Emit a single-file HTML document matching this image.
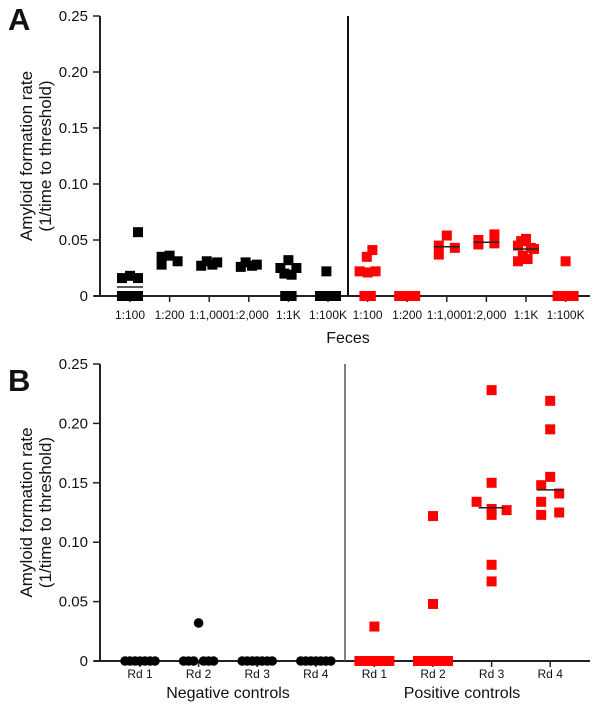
<!DOCTYPE html>
<html><head><meta charset="utf-8"><style>
body{margin:0;background:#fff;}
svg{display:block;font-family:"Liberation Sans",sans-serif;}
</style></head><body>
<svg id="chart" width="600" height="711" viewBox="0 0 600 711"></svg>
<script>
const catsA = ["1:100","1:200","1:1,000","1:2,000","1:1K","1:100K","1:100","1:200","1:1,000","1:2,000","1:1K","1:100K"];
const groupA = ["black","black","black","black","black","black","red","red","red","red","red","red"];
const valuesA = [
 [0.057,0.016,0.018,0.016,0,0,0,0],
 [0.035,0.028,0.036,0.031],
 [0.027,0.031,0.028,0.030],
 [0.026,0.030,0.027,0.028],
 [0.025,0.032,0.020,0.025,0.019,0,0],
 [0.022,0,0,0,0],
 [0.041,0.035,0.022,0.021,0.022,0,0],
 [0,0,0,0,0],
 [0.054,0.045,0.037,0.043],
 [0.050,0.046,0.055,0.047],
 [0.051,0.049,0.045,0.043,0.042,0.036,0.031,0.033],
 [0.031,0,0,0,0]
];
const offsA = [
 [1,-1,0,1,-1,-0.4,0.4,1],
 [-1,-1,0,1],
 [-1,-0.3,0.4,1],
 [-1,-0.4,0.4,1],
 [-1,0,-0.5,1,0.4,-0.4,0.4],
 [-0.2,-1,-0.3,0.3,1],
 [0.6,-0.1,-1,0,1,-0.4,0.4],
 [-1,-0.5,0,0.5,1],
 [0,-1,-1,1],
 [-1,-1,1,1],
 [0,-0.6,-1,0.6,1,-0.4,-1,0.2],
 [0,-1,-0.3,0.3,1]
];
const linesA = [0.008,null,null,null,null,null,null,null,0.044,0.048,0.042,null];
const ticksY = [0,0.05,0.10,0.15,0.20,0.25];
const tickLabelsY = ["0","0.05","0.10","0.15","0.20","0.25"];
const catsB = ["Rd 1","Rd 2","Rd 3","Rd 4","Rd 1","Rd 2","Rd 3","Rd 4"];
const valuesB = [
 [0,0,0,0,0,0,0],
 [0.032,0,0,0,0,0,0],
 [0,0,0,0,0,0,0],
 [0,0,0,0,0,0,0],
 [0.029,0,0,0,0,0],
 [0.122,0.048,0,0,0,0,0],
 [0.228,0.150,0.134,0.128,0.123,0.127,0.081,0.067],
 [0.219,0.195,0.155,0.148,0.141,0.134,0.123,0.125]
];
const offsB = [
 [-1,-0.67,-0.33,0,0.33,0.67,1],
 [0,-1,-0.67,-0.33,0.33,0.67,1],
 [-1,-0.67,-0.33,0,0.33,0.67,1],
 [-1,-0.67,-0.33,0,0.33,0.67,1],
 [0,-1,-0.5,0,0.5,1],
 [0,0,-1,-0.5,0,0.5,1],
 [0,0,-1,0,0,1,0,0],
 [0,0,0,-0.6,0.6,-0.6,-0.6,0.6]
];
const linesB = [null,null,null,null,null,null,0.129,0.144];

const svg = document.getElementById('chart');
const NS = "http://www.w3.org/2000/svg";
function mk(tag, attrs, parent){const e=document.createElementNS(NS,tag);for(const k in attrs)e.setAttribute(k,attrs[k]);(parent||svg).appendChild(e);return e;}
function txt(s,x,y,size,anchor,parent,weight){const t=mk('text',{x:x,y:y,'font-size':size,'text-anchor':anchor||'middle',fill:'#111'},parent);if(weight)t.setAttribute('font-weight',weight);t.textContent=s;return t;}

function panel(cfg){
  const g = mk('g',{});
  
  
  const y = v => cfg.y0 - v/0.25*(cfg.y0-cfg.yTop);
  const x = i => cfg.x0 + i*cfg.dx;
  const lt = txt(cfg.letter, 8, cfg.letterY, 31, 'start', g, 'bold');
  
  
  const ya = mk('line',{x1:100,y1:cfg.yTop,x2:100,y2:cfg.y0,stroke:'#222','stroke-width':2},g);
  
  
  const xa = mk('line',{x1:94,y1:cfg.y0,x2:590,y2:cfg.y0,stroke:'#222','stroke-width':2},g);
  
  
  const dv = mk('line',{x1:cfg.div,y1:cfg.yTop,x2:cfg.div,y2:cfg.y0,stroke:cfg.divColor,'stroke-width':cfg.divW},g);
  
  
  ticksY.forEach((v,i)=>{
    mk('line',{x1:93,y1:y(v),x2:100,y2:y(v),stroke:'#222','stroke-width':1.5},g);
    const t = txt(tickLabelsY[i], 88, y(v)+5, 15, 'end', g);
    
    
  });
  const yt = mk('text',{transform:`translate(${cfg.titleX},${(cfg.yTop+cfg.y0)/2}) rotate(-90)`,'font-size':17,'text-anchor':'middle',fill:'#111'},g);
  
  
  const t1 = mk('tspan',{x:0,y:0},yt); t1.textContent='Amyloid formation rate';
  const t2 = mk('tspan',{x:0,y:19},yt); t2.textContent='(1/time to threshold)';
  cfg.cats.forEach((c,i)=>{
    mk('line',{x1:x(i),y1:cfg.y0,x2:x(i),y2:cfg.y0+6,stroke:'#222','stroke-width':1.5},g);
    const t = txt(c, x(i), cfg.y0+cfg.labOff, cfg.labSize, 'middle', g);
    
    
    cfg.vals[i].forEach((v,j)=>{
      const cx = x(i)+cfg.offs[i][j]*cfg.spread;
      const red = cfg.isRed(i);
      let m;
      if(cfg.circle(i)) m = mk('circle',{cx:cx,cy:y(v),r:4.8,fill:'#000'},g);
      else m = mk('rect',{x:cx-5,y:y(v)-5,width:10,height:10,fill:red?'#f00':'#000'},g);
      
      
    });
    if(cfg.lines[i]!=null){
      const l = mk('line',{x1:x(i)-13,y1:y(cfg.lines[i]),x2:x(i)+13,y2:y(cfg.lines[i]),stroke:'#222','stroke-width':1.5},g);
      
      
    }
  });
  cfg.groupLabels.forEach(gl=>{
    const t = txt(gl[0], gl[1], gl[2], 16, 'middle', g);
    
    
  });
}
panel({name:'panel-a',letter:'A',letterY:30,yTop:16,y0:296,x0:130,dx:39.6,div:348,divColor:'#111',divW:2,
  cats:catsA,vals:valuesA,offs:offsA,lines:linesA,spread:8,labOff:23,labSize:12,titleX:32,
  isRed:i=>groupA[i]==='red',circle:i=>false,groupLabels:[["Feces",348,343]]});
panel({name:'panel-b',letter:'B',letterY:391,yTop:364,y0:661,x0:140,dx:58.6,div:345,divColor:'#555',divW:1.5,
  cats:catsB,vals:valuesB,offs:offsB,lines:linesB,spread:15,labOff:17,labSize:12,titleX:32,
  isRed:i=>i>=4,circle:i=>i<4,groupLabels:[["Negative controls",228,698],["Positive controls",462,698]]});
</script>
</body></html>
